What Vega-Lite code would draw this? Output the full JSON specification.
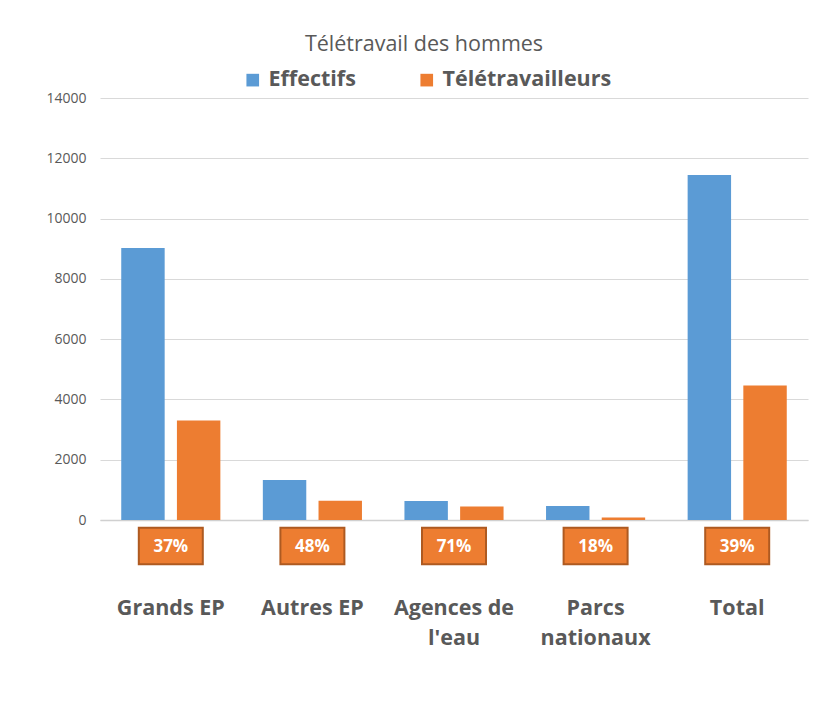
{
  "$schema": "https://vega.github.io/schema/vega-lite/v6.json",
  "width": 708,
  "height": 422,
  "autosize": {"type": "none"},
  "padding": {"left": 100, "top": 98, "right": 25, "bottom": 187},
  "background": "white",
  "title": {
    "text": "Télétravail des hommes",
    "font": "Open Sans",
    "fontSize": 21.5,
    "fontWeight": "normal",
    "color": "#595959",
    "anchor": "middle",
    "frame": "group",
    "dx": -30,
    "offset": 14
  },
  "config": {
    "view": {"stroke": null},
    "font": "Open Sans"
  },
  "datasets": {
    "barres": [
      {"categorie": "Grands EP", "serie": "Effectifs", "valeur": 9020},
      {"categorie": "Grands EP", "serie": "Télétravailleurs", "valeur": 3300},
      {"categorie": "Autres EP", "serie": "Effectifs", "valeur": 1330},
      {"categorie": "Autres EP", "serie": "Télétravailleurs", "valeur": 635},
      {"categorie": "Agences de l'eau", "serie": "Effectifs", "valeur": 630},
      {"categorie": "Agences de l'eau", "serie": "Télétravailleurs", "valeur": 445},
      {"categorie": "Parcs nationaux", "serie": "Effectifs", "valeur": 465},
      {"categorie": "Parcs nationaux", "serie": "Télétravailleurs", "valeur": 85},
      {"categorie": "Total", "serie": "Effectifs", "valeur": 11445},
      {"categorie": "Total", "serie": "Télétravailleurs", "valeur": 4465}
    ],
    "taux": [
      {"categorie": "Grands EP", "taux": "37%"},
      {"categorie": "Autres EP", "taux": "48%"},
      {"categorie": "Agences de l'eau", "taux": "71%"},
      {"categorie": "Parcs nationaux", "taux": "18%"},
      {"categorie": "Total", "taux": "39%"}
    ]
  },
  "layer": [
    {
      "data": {"name": "barres"},
      "mark": {"type": "bar"},
      "encoding": {
        "x": {
          "field": "categorie",
          "type": "nominal",
          "sort": null,
          "title": null,
          "scale": {"paddingInner": 0.3, "paddingOuter": 0.15},
          "axis": {
            "labelAngle": 0,
            "labelFont": "Open Sans",
            "labelFontSize": 21.5,
            "labelFontWeight": "bold",
            "labelColor": "#595959",
            "labelPadding": 77,
            "labelLineHeight": 30,
            "labelExpr": "datum.label == \"Agences de l'eau\" ? [\"Agences de\", \"l'eau\"] : datum.label == \"Parcs nationaux\" ? [\"Parcs\", \"nationaux\"] : datum.label",
            "ticks": false,
            "domainColor": "#d0d0d0",
            "domainWidth": 1.5,
            "grid": false
          }
        },
        "xOffset": {
          "field": "serie",
          "type": "nominal",
          "sort": null,
          "scale": {"paddingInner": 0.22}
        },
        "y": {
          "field": "valeur",
          "type": "quantitative",
          "title": null,
          "scale": {"domain": [0, 14000], "nice": false},
          "axis": {
            "values": [0, 2000, 4000, 6000, 8000, 10000, 12000, 14000],
            "format": "d",
            "labelFont": "Open Sans",
            "labelFontSize": 14,
            "labelColor": "#595959",
            "labelPadding": 14,
            "ticks": false,
            "domain": false,
            "gridColor": "#d9d9d9",
            "gridWidth": 1
          }
        },
        "color": {
          "field": "serie",
          "type": "nominal",
          "sort": null,
          "scale": {"domain": ["Effectifs", "Télétravailleurs"], "range": ["#5b9bd5", "#ed7d31"]},
          "legend": {
            "title": null,
            "orient": "none",
            "legendX": 142,
            "legendY": -29,
            "direction": "horizontal",
            "symbolType": "square",
            "symbolSize": 160,
            "symbolStrokeWidth": 0,
            "labelFont": "Open Sans",
            "labelFontSize": 21.5,
            "labelFontWeight": "bold",
            "labelColor": "#595959",
            "labelOffset": 5,
            "labelLimit": 300,
            "columnPadding": 60
          }
        }
      }
    },
    {
      "data": {"name": "taux"},
      "mark": {
        "type": "point",
        "shape": "M-1,-0.57L1,-0.57L1,0.57L-1,0.57Z",
        "size": 4096,
        "filled": true,
        "fill": "#ed7d31",
        "stroke": "#ae5a21",
        "strokeWidth": 2,
        "opacity": 1,
        "yOffset": 26
      },
      "encoding": {
        "x": {"field": "categorie", "type": "nominal", "sort": null},
        "y": {"datum": 0, "type": "quantitative"}
      }
    },
    {
      "data": {"name": "taux"},
      "mark": {
        "type": "text",
        "font": "Open Sans",
        "fontSize": 17,
        "fontWeight": "bold",
        "color": "white",
        "baseline": "middle",
        "align": "center",
        "yOffset": 27
      },
      "encoding": {
        "x": {"field": "categorie", "type": "nominal", "sort": null},
        "y": {"datum": 0, "type": "quantitative"},
        "text": {"field": "taux"}
      }
    }
  ]
}
